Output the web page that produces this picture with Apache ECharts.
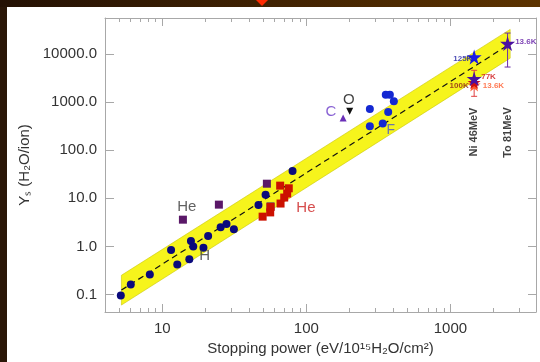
<!DOCTYPE html>
<html><head><meta charset="utf-8">
<script src="https://cdn.jsdelivr.net/npm/echarts@6/dist/echarts.min.js"></script>
<style>html,body{margin:0;padding:0;background:#fff}#c{width:540px;height:362px}</style>
</head><body><div id="c"></div>
<script>
// ---- data ----
const xMajor = [10, 100, 1000];
const xMinor = [5,6,7,8,9,20,30,40,50,60,70,80,90,200,300,400,500,600,700,800,900,2000,3000];
const yMajor = [0.1, 1, 10, 100, 1000, 10000];

const lowDotS = [5.15, 6.04, 8.19, 11.5, 12.7, 15.4, 15.8, 16.4, 19.3, 20.8, 25.4, 27.9, 31.4, 46.5, 52.1, 80.2];
const lowDotY = [0.095, 0.16, 0.26, 0.84, 0.42, 0.54, 1.29, 0.99, 0.94, 1.64, 2.49, 2.92, 2.26, 7.25, 11.9, 37];
const highDotS = [276, 356, 380, 405, 370, 276, 339];
const highDotY = [725, 1446, 1446, 1050, 627, 316, 360];

const purpleSqS = [13.9, 24.7, 53.2, 56.4];
const purpleSqY = [3.6, 7.4, 20.2, 6.8];
const redSqS = [49.7, 56.1, 56.4, 66.2, 65.8, 70.2, 73.6, 75.5];
const redSqY = [4.16, 5.1, 6.6, 7.8, 18.4, 10.4, 12.6, 16.2];

const carbonPt = [180, 470];
const oxygenPt = [200, 650];

const starBlue = [[1462, 8770]];
const starOrange = [[1462, 2300]];
const starRed = [[1462, 2600]];
const starPurple = [[1462, 3100], [2495, 16700]];

const errNi = [[1462, 1333, 4640]];
const errTo = [[2495, 5430, 27700]];

const bandS = [5.2, 2600];
const bandUpper = [0.25, 33000];
const bandLower = [0.06, 8300];
const fitY = [0.123, 16600];

const annText = ['He', 'H', 'He', 'C', 'O', 'F', '125K', '77K', '100K', '13.6K', '13.6K', 'Ni 46MeV', 'To 81MeV'];
const annS =    [14.8, 19.7, 99.3, 148, 197, 386, 1220, 1840, 1150, 1990, 3340, 1462, 2495];
const annY =    [6.5, 0.65, 6.2, 620, 1100, 260, 7900, 3380, 2250, 2180, 18000, 240, 235];
const annKind = ['gray', 'gray', 'red', 'purple', 'black', 'blue', 'sBlue', 'sRed', 'sDarkRed', 'sOrange', 'sPurple', 'rot', 'rot'];

// ---- styles ----
const FONT = 'Liberation Sans';
const annStyle = {
  gray: {color: '#3a3a3a', fontSize: 15},
  red: {color: '#cc2020', fontSize: 15},
  purple: {color: '#6a3ac8', fontSize: 15},
  black: {color: '#111', fontSize: 15},
  blue: {color: '#4a55cc', fontSize: 14},
  sBlue: {color: '#1a1aa0', fontSize: 8, fontWeight: 'bold'},
  sRed: {color: '#cc1010', fontSize: 8, fontWeight: 'bold'},
  sDarkRed: {color: '#8a1a1a', fontSize: 8, fontWeight: 'bold'},
  sOrange: {color: '#ff5a2a', fontSize: 8, fontWeight: 'bold'},
  sPurple: {color: '#5a10a0', fontSize: 8, fontWeight: 'bold'},
  rot: {color: '#111', fontSize: 11, fontWeight: 'bold', rotate: 90}
};
const STAR = 'path://M50,0 L61,35 L98,35 L68,57 L79,91 L50,70 L21,91 L32,57 L2,35 L39,35 Z';
const AX = '#a8a8a8';
const XMIN = 4, XMAX = 3930, YMIN = 0.043, YMAX = 57000;

const zip = (a, b) => a.map((v, i) => [v, b[i]]);

function xAxisDef(pos, major) {
  return {
    type: 'log', logBase: 10, min: XMIN, max: XMAX, position: pos,
    axisLine: {show: major, onZero: false, lineStyle: {color: AX, width: 1}},
    axisTick: {show: true, inside: true, length: major ? 8 : 4, customValues: major ? xMajor : xMinor, lineStyle: {color: AX}},
    axisLabel: {show: major && pos === 'bottom', customValues: xMajor, fontFamily: FONT, fontSize: 15, color: '#333', margin: 9,
      formatter: v => String(Math.round(v))},
    splitLine: {show: false}, minorTick: {show: false},
    name: (major && pos === 'bottom') ? 'Stopping power (eV/10¹⁵H₂O/cm²)' : '',
    nameLocation: 'middle', nameGap: 28,
    nameTextStyle: {fontFamily: FONT, fontSize: 15, color: '#333'}
  };
}
function yAxisDef(pos) {
  const left = pos === 'left';
  return {
    type: 'log', logBase: 10, min: YMIN, max: YMAX, position: pos,
    axisLine: {show: true, onZero: false, lineStyle: {color: AX, width: 1}},
    axisTick: {show: true, inside: true, length: left ? 9 : 8, customValues: yMajor, lineStyle: {color: AX}},
    axisLabel: {show: left, customValues: yMajor, fontFamily: FONT, fontSize: 15, color: '#333', margin: 8,
      formatter: v => Number(v).toFixed(1)},
    splitLine: {show: false},
    name: left ? 'Yₛ (H₂O/ion)' : '', nameLocation: 'middle', nameGap: 72, nameRotate: 90,
    nameTextStyle: {fontFamily: FONT, fontSize: 15, color: '#333'}
  };
}

const chart = echarts.init(document.getElementById('c'), null, {renderer: 'canvas'});

const option = {
  animation: false,
  backgroundColor: '#ffffff',
  grid: {left: 105, right: 4, top: 18, bottom: 50, containLabel: false},
  xAxis: [xAxisDef('bottom', true), xAxisDef('bottom', false), xAxisDef('top', true), xAxisDef('top', false)],
  yAxis: [yAxisDef('left'), yAxisDef('right')],
  graphic: [
    {type: 'rect', shape: {x: 0, y: 0, width: 7, height: 362}, style: {fill: '#2a1607'}, z: 100},
    {type: 'rect', shape: {x: 0, y: 0, width: 540, height: 7},
      style: {fill: new echarts.graphic.LinearGradient(0, 0, 1, 0, [{offset: 0, color: '#241104'}, {offset: 1, color: '#5c3300'}])}, z: 100},
    {type: 'polygon', shape: {points: [[256, 0], [268, 0], [262, 6]]}, style: {fill: '#ff2a00'}, z: 101}
  ],
  series: [
    {
      type: 'custom', name: 'band', silent: true, z: 1,
      data: [[0]],
      renderItem: (params, api) => {
        const pts = [];
        for (let i = 0; i < bandS.length; i++) pts.push(api.coord([bandS[i], bandUpper[i]]));
        for (let i = bandS.length - 1; i >= 0; i--) pts.push(api.coord([bandS[i], bandLower[i]]));
        return {type: 'polygon', shape: {points: pts}, style: {fill: '#f6f41c', stroke: '#c9c600', lineWidth: 0.6}};
      }
    },
    {
      type: 'line', name: 'fit', data: zip(bandS, fitY), symbol: 'none', silent: true, z: 2,
      lineStyle: {color: '#111', width: 1.2, type: [6, 4]}
    },
    {type: 'scatter', data: zip(lowDotS, lowDotY), symbol: 'circle', symbolSize: 8, itemStyle: {color: '#0a0a7c', opacity: 1}, z: 5},
    {type: 'scatter', data: zip(highDotS, highDotY), symbol: 'circle', symbolSize: 8, itemStyle: {color: '#1428d2', opacity: 1}, z: 5},
    {type: 'scatter', data: zip(purpleSqS, purpleSqY), symbol: 'rect', symbolSize: 8, itemStyle: {color: '#5a1868', opacity: 1}, z: 5},
    {type: 'scatter', data: zip(redSqS, redSqY), symbol: 'rect', symbolSize: 8, itemStyle: {color: '#cc1100', opacity: 1}, z: 6},
    {type: 'scatter', data: [carbonPt], symbol: 'triangle', symbolSize: 7, itemStyle: {color: '#6a2fb8', opacity: 1}, z: 5},
    {type: 'scatter', data: [oxygenPt], symbol: 'triangle', symbolRotate: 180, symbolSize: 7, itemStyle: {color: '#111', opacity: 1}, z: 5},
    {
      type: 'custom', name: 'err', z: 4, silent: true,
      data: errNi.map(d => ({value: d, color: '#e04040'})).concat(errTo.map(d => ({value: d, color: '#6a2aa8'}))),
      renderItem: (params, api) => {
        const item = option.series[8].data[params.dataIndex];
        const top = api.coord([api.value(0), api.value(2)]);
        const bot = api.coord([api.value(0), api.value(1)]);
        const w = 3;
        const st = {stroke: item.color, lineWidth: 1};
        return {type: 'group', children: [
          {type: 'line', shape: {x1: top[0], y1: top[1], x2: bot[0], y2: bot[1]}, style: st},
          {type: 'line', shape: {x1: top[0] - w, y1: top[1], x2: top[0] + w, y2: top[1]}, style: st},
          {type: 'line', shape: {x1: bot[0] - w, y1: bot[1], x2: bot[0] + w, y2: bot[1]}, style: st}
        ]};
      }
    },
    {type: 'scatter', data: starOrange, symbol: STAR, symbolSize: 13, itemStyle: {color: '#ff5a2a', opacity: 1}, z: 7},
    {type: 'scatter', data: starRed, symbol: STAR, symbolSize: 13, itemStyle: {color: '#cc1010', opacity: 1}, z: 8},
    {type: 'scatter', data: starPurple, symbol: STAR, symbolSize: 15, itemStyle: {color: '#4a10a0', opacity: 1}, z: 9},
    {type: 'scatter', data: starBlue, symbol: STAR, symbolSize: 15, itemStyle: {color: '#1a1ae8', opacity: 1}, z: 9},
    {
      type: 'scatter', silent: true, z: 10, symbolSize: 0,
      data: annText.map((t, i) => {
        const s = annStyle[annKind[i]];
        return {
          value: [annS[i], annY[i]], name: t,
          label: {show: true, position: 'inside', formatter: t, fontFamily: FONT,
            color: s.color, fontSize: s.fontSize, fontWeight: s.fontWeight || 'normal', rotate: s.rotate || 0}
        };
      })
    }
  ]
};
chart.setOption(option);
</script></body></html>
